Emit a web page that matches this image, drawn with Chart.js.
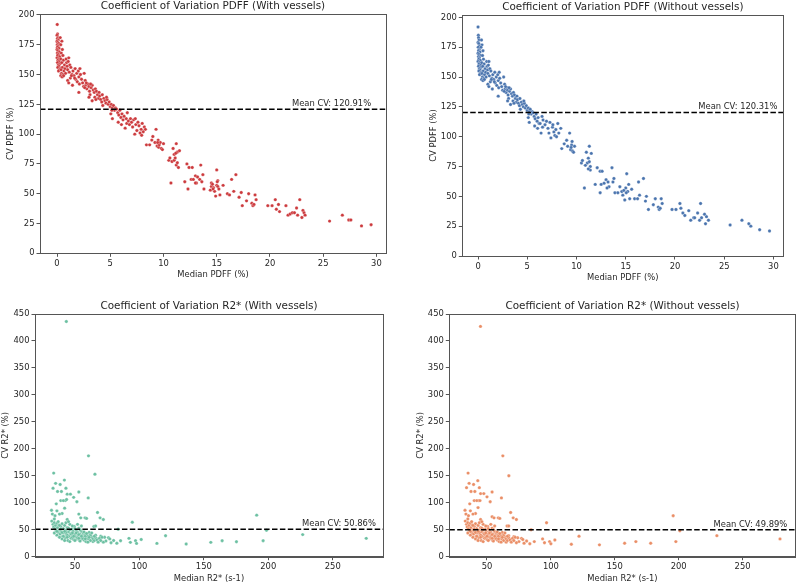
<!DOCTYPE html>
<html><head><meta charset="utf-8">
<script src="https://cdn.jsdelivr.net/npm/chart.js@4/dist/chart.umd.min.js"></script>
<style>
html,body{margin:0;padding:0;background:#fff;}
#wrap{position:relative;width:800px;height:585px;overflow:hidden;}
canvas{position:absolute;left:0;top:0;}
</style></head><body><div id="wrap">
<canvas id="c0" width="800" height="585"></canvas>
<canvas id="c1" width="800" height="585"></canvas>
<canvas id="c2" width="800" height="585"></canvas>
<canvas id="c3" width="800" height="585"></canvas>
</div>
<script>
// ---------------- data ----------------
const titles = [
  "Coefficient of Variation PDFF (With vessels)",
  "Coefficient of Variation PDFF (Without vessels)",
  "Coefficient of Variation R2* (With vessels)",
  "Coefficient of Variation R2* (Without vessels)"
];
const xTitles = ["Median PDFF (%)", "Median PDFF (%)", "Median R2* (s-1)", "Median R2* (s-1)"];
const yTitles = ["CV PDFF (%)", "CV PDFF (%)", "CV R2* (%)", "CV R2* (%)"];
const meanCV = [120.91, 120.31, 50.86, 49.89];
const pdffTicksX = [0, 5, 10, 15, 20, 25, 30];
const pdffTicksY = [0, 25, 50, 75, 100, 125, 150, 175, 200];
const r2TicksX = [50, 100, 150, 200, 250];
const r2TicksY = [0, 50, 100, 150, 200, 250, 300, 350, 400, 450];

const pdffWith = [
[0.02,192],[0.05,184],[0.0,183],[0.08,181],[0.03,180],[0.12,179],[0.0,178],[0.06,177],[0.15,176],[0.02,175],[0.1,174],[0.04,173],[0.18,172],[0.0,171],[0.08,170],[0.22,169],[0.03,168],[0.12,167],[0.06,166],[0.25,165],[0.0,164],[0.15,163],[0.09,162],[0.2,161],[0.04,160],[0.28,159],[0.12,158],[0.18,157],[0.07,156],[0.3,155],[0.22,154],[0.14,153],
[0.3,181],[0.45,178],[0.35,175],[0.5,171],[0.4,168],[0.55,166],[0.35,163],[0.6,162],[0.45,160],[0.7,158],[0.5,156],[0.38,154],[0.65,153],[0.42,151],[0.55,150],[0.35,149],[0.48,148],[0.75,155],[0.8,151],[0.62,149],[0.9,160],[0.85,163],[0.95,157],
[1.1,164],[1.05,161],[1.2,158],[1.0,154],[1.15,152],[1.3,156],[1.4,150],[1.0,145],[1.1,143],[1.25,147],[1.5,153],[1.6,149],[1.7,155],[1.75,146],[1.85,151],[1.9,144],[2.0,153],[2.05,148],[2.1,142],[2.2,150],[2.3,146],[2.05,135],[2.4,143],[2.5,140],[1.45,141],[1.65,147],[2.15,155],[1.35,149],[2.55,151],[2.65,145],
[2.7,141],[2.8,138],[2.9,142],[3.0,140],[3.05,136],[3.1,133],[3.2,139],[3.3,141],[3.4,137],[3.5,135],[3.55,131],[3.6,138],[3.7,136],[3.8,133],[3.9,130],[3.0,131],[3.3,128],[2.6,139],[2.75,143],[3.15,142],[3.65,129],[3.95,135],
[4.0,132],[4.1,129],[4.2,127],[4.3,124],[4.4,130],[4.5,128],[4.6,126],[4.7,129],[4.8,125],[4.9,127],[5.0,123],[5.1,125],[5.2,122],[5.3,124],[5.4,120],[5.5,122],[4.25,133],[4.65,131],[5.15,120],[5.05,117],
[5.6,121],[5.7,118],[5.8,116],[5.75,110],[5.9,120],[6.0,114],[6.1,117],[6.2,112],[6.3,115],[6.4,105],[6.5,113],[6.55,109],[6.6,118],[6.7,111],[6.8,108],[6.9,113],[7.0,110],[5.2,113],[6.05,108],
[7.1,106],[7.2,112],[7.3,100],[7.4,108],[7.5,103],[7.6,110],[7.7,107],[7.8,101],[7.9,104],[8.0,109],[8.1,102],[8.2,106],[8.3,104],[7.35,113],[7.95,99],
[8.4,91],[8.7,91],[8.9,95],[9.0,98],[9.2,93],[9.3,104],[9.4,90],[9.5,95],[9.55,89],[9.6,91],[9.7,93],[9.8,88],[9.9,87],[10.0,92],[9.45,93],
[10.5,78],[10.6,80],[10.7,59],[10.8,77],[10.9,88],[11.0,83],[11.0,78],[11.1,80],[11.2,92],[11.2,74],[11.3,76],[11.3,85],[11.4,72],[11.5,86],[11.15,84],
[12.0,60],[12.2,75],[12.3,54],[12.4,72],[12.6,62],[12.7,72],[12.8,62],[13.0,65],[13.1,59],[13.2,64],[13.4,62],[13.5,74],[13.6,60],[13.7,66],[13.8,54],[13.0,59],
[14.4,53],[14.5,56],[14.5,59],[14.6,58],[14.7,55],[14.8,52],[14.9,48],[15.0,57],[15.0,70],[15.1,56],[15.1,61],[15.2,54],[15.3,49],[15.6,57],[14.65,54],[15.05,60],
[16.0,50],[16.2,49],[16.4,62],[16.6,52],[16.8,66],[17.1,47],[17.3,51],[17.4,40],[17.8,44],[18.0,50],[18.3,42],[18.4,40],[18.5,41],[18.6,49],[18.7,45],
[19.8,40],[20.2,40],[20.5,45],[20.6,37],[20.8,41],[20.9,35],[21.5,40],[21.7,32],[21.9,33],[22.1,34],[22.3,34],[22.5,38],[22.6,32],[22.8,45],[23.0,30],[23.1,36],[23.2,34],[23.3,32],
[25.6,27],[26.8,32],[27.4,28],[27.6,28],[28.6,23],[29.5,24]
];

const pdffWithout = [
[0.0,192],[0.03,185],[0.05,183],[0.1,181],[0.0,179],[0.08,178],[0.15,176],[0.02,175],[0.12,173],[0.05,172],[0.2,171],[0.0,170],[0.1,169],[0.25,168],[0.04,167],[0.14,166],[0.08,165],[0.22,164],[0.0,163],[0.16,162],[0.1,161],[0.27,160],[0.05,159],[0.3,158],[0.13,157],[0.2,156],[0.08,155],[0.32,154],[0.24,153],[0.15,152],
[0.35,181],[0.4,177],[0.3,175],[0.5,172],[0.45,168],[0.55,165],[0.38,162],[0.62,161],[0.48,159],[0.72,157],[0.52,155],[0.4,153],[0.66,152],[0.44,150],[0.58,149],[0.36,148],[0.5,147],[0.78,154],[0.82,150],[0.64,148],[0.92,159],[0.88,163],[0.97,156],
[1.1,163],[1.05,160],[1.2,157],[1.0,153],[1.15,151],[1.3,155],[1.4,149],[1.0,144],[1.1,142],[1.25,146],[1.5,152],[1.6,148],[1.7,154],[1.75,145],[1.85,150],[1.9,143],[2.0,152],[2.05,147],[2.1,141],[2.2,149],[2.3,145],[2.05,134],[2.4,142],[2.5,139],[1.45,140],[1.65,146],[2.15,154],[1.35,148],[2.6,150],[2.7,144],
[2.75,140],[2.85,137],[2.95,141],[3.0,139],[3.05,135],[3.1,132],[3.2,138],[3.3,140],[3.4,136],[3.5,134],[3.55,130],[3.6,137],[3.7,135],[3.8,132],[3.9,129],[3.0,130],[3.3,127],[2.65,138],[2.8,142],[3.15,141],[3.65,128],[3.95,134],
[4.0,131],[4.1,128],[4.2,126],[4.3,123],[4.4,129],[4.5,127],[4.6,125],[4.7,128],[4.8,124],[4.9,126],[5.0,122],[5.1,124],[5.2,121],[5.3,123],[5.4,119],[5.5,121],[4.25,132],[4.65,130],[5.15,119],[5.1,116],
[5.6,120],[5.7,117],[5.8,115],[5.75,109],[5.9,119],[6.0,113],[6.1,116],[6.2,111],[6.3,111],[6.4,103],[6.6,114],[6.55,108],[6.5,117],[6.8,110],[6.95,113],[7.1,107],[5.2,112],[6.05,107],
[7.2,103],[7.4,99],[7.56,108],[7.7,104],[7.8,101],[7.97,100],[8.1,111],[8.4,107],[7.3,112],[7.6,110],[7.9,106],[8.2,103],
[8.5,90],[8.75,94],[9.0,97],[9.1,92],[9.3,103],[9.4,89],[9.5,93],[9.6,88],[9.7,87],[9.8,92],[9.45,91],[9.55,96],
[10.5,78],[10.6,80],[10.8,57],[11.0,87],[11.1,78],[11.2,82],[11.3,92],[11.4,75],[11.4,72],[11.5,86],[11.3,79],[10.9,76],[11.2,73],
[11.9,60],[12.1,74],[12.4,71],[12.4,53],[12.6,71],[12.5,60],[12.8,61],[13.0,64],[13.2,62],[13.3,58],[13.6,74],[13.7,62],[13.8,65],[13.9,53],[13.1,57],
[14.2,53],[14.4,58],[14.6,54],[14.7,51],[14.9,47],[15.0,57],[15.1,69],[15.2,54],[15.3,60],[15.4,48],[15.6,56],[15.9,48],[16.2,48],[16.3,62],[16.4,51],[16.8,65],[14.8,55],[15.05,53],
[17.0,46],[17.1,50],[17.3,39],[17.8,43],[18.0,48],[18.3,41],[18.4,39],[18.6,48],[18.7,44],[18.5,40],
[19.7,39],[20.1,39],[20.5,44],[20.6,40],[20.8,36],[21.0,34],[21.4,38],[21.6,30],[21.9,32],[22.0,32],[22.3,36],[22.5,30],[22.6,44],[22.7,32],[23.0,35],[23.1,27],[23.2,33],[23.4,30],
[25.6,26],[26.8,30],[27.5,27],[27.7,25],[28.6,22],[29.6,21]
];

const r2With = [
[43.3,436],[60.5,187],[65.5,153],[33.5,155],[33,127],[35,136],[36.5,121],[38.5,134],[39.5,121],[41.8,142],[43,127],[44,116],[42.5,104],[46.5,116],[49,110],[51.5,102],[53,120],[60.3,109],[35.5,98],[39,104],[41,104],[43.5,106],[40,80],[42,90],[31.8,86],[32.5,79],[34.5,76],[36,85],[38,79],[44,69],[53,79],[54.5,72],[57.8,72],[59,71],[67.5,82],[69.5,72],[72,69],[64.7,56],[66,57],[94.5,64],
[191,77],[198.6,49],[226.7,41],[276,34],[196,29.7],[175.3,27.8],[164.2,29.7],[155.4,26.6],[136.3,23.5],[113.6,24.7],[120.3,38.9],[101.4,32],[97,29.7],[93,26.6],[97.8,24.7],[91.9,34],[85.4,29.7],[83.5,51],[82.5,25],[80,30],[78,26],[76,35],[74,29],[77,33],[72,27],[70,38],[73,36],[68,33],[66,40],[64,28],
[32,66],[33,60],[33.5,55],[34,63],[34.5,52],[35,58],[35.5,48],[36,62],[36.5,54],[37,45],[37.5,59],[38,50],[38.5,42],[39,56],[39.5,47],[40,61],[40.5,38],[41,52],[41.5,44],[42,58],[42.5,35],[43,49],[43.5,41],[44,54],[44.5,30],[45,46],[45.5,38],[46,60],[46.5,43],[47,34],[47.5,51],[48,40],[48.5,47],[49,32],[49.5,56],[50,42],[50.5,37],[51,48],[51.5,33],[52,45],[52.5,39],[53,53],[53.5,30],[54,42],[54.5,36],[55,47],[55.5,33],[56,40],[56.5,44],[57,31],[57.5,37],[58,42],[58.5,28],[59,35],[60,39],[60.5,33],[61,45],[62,30],[63,36],[64,33],[65,30],[66,35],[67,31],[68,27],[69,34],[70,30],[71,36],
[36,40],[38,36],[40,33],[42,30],[44,40],[46,28],[48,36],[50,30],[52,35],[54,29],[56,34],[58,38],[60,27],[34,44],[36,47],[39,51],[41,38],[43,45],[45,53],[47,42],[49,38],[51,44],[53,41],[55,38],[57,46],[59,43],[62,40],[63,44],[65,38],[34,70],[37,65],[43,63],[48,57],[52,60],[55,57],[45,65],[50,52],[40,45],[38,58],[46,50],[44,36],[42,47],[48,44],[54,50],[58,33],[61,36],[53,34]
];

const r2Without = [
[44.9,427],[62.4,187],[67.1,150],[35.2,155],[34,128],[36,136],[37.5,121],[39.5,134],[40.5,121],[42.8,141],[44,128],[45,117],[43.5,104],[47.5,117],[50,111],[52.5,102],[54,120],[61.3,109],[36.5,98],[40,104],[42,104],[44.5,104],[41,80],[43,91],[32.8,86],[33.5,79],[35.5,76],[37,85],[39,79],[45,69],[54,74],[55.5,72],[58.8,72],[60,71],[68.5,82],[70.5,72],[73,69],[65.7,57],[67,57],[96.6,63],
[195.7,76],[200.9,48],[229.9,39],[279.3,33],[197.8,28],[178.1,25],[166.5,28],[157.7,25],[138,22],[116,23],[122,38],[103.1,31],[99,28],[95,26],[100,24],[93.5,33],[87,28],[84.5,50],[83.5,24],[81,29],[79,25],[77,34],[75,28],[78,32],[73,26],[71,37],[74,35],[69,32],[67,39],[65,27],
[33,66],[34,60],[34.5,55],[35,63],[35.5,52],[36,58],[36.5,48],[37,62],[37.5,54],[38,45],[38.5,59],[39,50],[39.5,42],[40,56],[40.5,47],[41,61],[41.5,38],[42,52],[42.5,44],[43,58],[43.5,35],[44,49],[44.5,41],[45,54],[45.5,30],[46,46],[46.5,38],[47,60],[47.5,43],[48,34],[48.5,51],[49,40],[49.5,47],[50,32],[50.5,56],[51,42],[51.5,37],[52,48],[52.5,33],[53,45],[53.5,39],[54,53],[54.5,30],[55,42],[55.5,36],[56,47],[56.5,33],[57,40],[57.5,44],[58,31],[58.5,37],[59,42],[59.5,28],[60,35],[61,39],[61.5,33],[62,45],[63,30],[64,36],[65,33],[66,30],[67,35],[68,31],[69,27],[70,34],[71,30],[72,36],
[37,40],[39,36],[41,33],[43,30],[45,40],[47,28],[49,36],[51,30],[53,35],[55,29],[57,34],[59,38],[61,27],[35,44],[37,47],[40,51],[42,38],[44,45],[46,53],[48,42],[50,38],[52,44],[54,41],[56,38],[58,46],[60,43],[63,40],[64,44],[66,38],[35,70],[38,65],[44,63],[49,57],[53,60],[56,57],[46,65],[51,52],[41,45],[39,58],[47,50],[45,36],[43,47],[49,44],[55,50],[59,33],[62,36],[54,34]
];

// ---------------- layout ----------------
const panels = [
  {id:'c0', data:pdffWith,    color:'#cc3a3d', L:40,    R:386,   T:14,  B:253.3, xmin:-1.6, xmax:30.9, ymax:200.8, tx:pdffTicksX, ty:pdffTicksY, labelX:29.5},
  {id:'c1', data:pdffWithout, color:'#4a74ae', L:462.3, R:783.3, T:15,  B:256,   xmin:-1.6, xmax:31.0, ymax:202,   tx:pdffTicksX, ty:pdffTicksY, labelX:30.4},
  {id:'c2', data:r2With,      color:'#6cc0a2', L:35,    R:383,   T:314, B:556.7, xmin:19,   xmax:289,  ymax:450,   tx:r2TicksX,   ty:r2TicksY,   labelX:283.5},
  {id:'c3', data:r2Without,   color:'#ea8e66', L:449.3, R:798.3, T:314, B:556.7, xmin:20.5, xmax:291.5, ymax:450,  tx:r2TicksX,   ty:r2TicksY,   labelX:285}
];

const FONT = 'DejaVu Sans';
const FS = 8.4, TFS = 10.4;
const TXT = '#262626';
const AX = '#555';
const YW = 34, XH = 28;

panels.forEach((p, i) => {
  const framePlugin = {
    id: 'frame' + i,
    afterDatasetsDraw(chart) {
      const {ctx, chartArea: a, scales} = chart;
      ctx.save();
      ctx.font = FS + 'px "' + FONT + '"';
      ctx.fillStyle = TXT;
      ctx.textAlign = 'right';
      ctx.textBaseline = 'bottom';
      ctx.fillText('Mean CV: ' + meanCV[i].toFixed(2) + '%', scales.x.getPixelForValue(p.labelX), scales.y.getPixelForValue(meanCV[i]) - 1);
      ctx.strokeStyle = AX;
      ctx.lineWidth = 1;
      ctx.strokeRect(Math.round(a.left) + 0.5, Math.round(a.top) + 0.5, Math.round(a.right - a.left), Math.round(a.bottom - a.top));
      ctx.font = TFS + 'px "' + FONT + '"';
      ctx.textAlign = 'center';
      ctx.textBaseline = 'middle';
      ctx.fillText(titles[i], (a.left + a.right) / 2, a.top - 8);
      ctx.restore();
    }
  };
  new Chart(document.getElementById(p.id), {
    type: 'scatter',
    data: {
      datasets: [
        {
          type: 'line',
          data: [{x: p.xmin, y: meanCV[i]}, {x: p.xmax, y: meanCV[i]}],
          borderColor: '#000', borderWidth: 1.5, borderDash: [5.5, 2.4],
          pointRadius: 0, fill: false
        },
        {
          data: p.data.map(d => ({x: d[0], y: d[1]})),
          backgroundColor: p.color,
          borderColor: 'rgba(255,255,255,0.7)',
          borderWidth: 0.4,
          pointRadius: 1.7
        }
      ]
    },
    options: {
      responsive: false,
      animation: false,
      devicePixelRatio: 1,
      layout: {padding: {left: p.L - YW, right: 800 - p.R, top: p.T, bottom: 585 - p.B - XH}},
      plugins: {legend: {display: false}, tooltip: {enabled: false}, title: {display: false}},
      scales: {
        x: {
          type: 'linear', min: p.xmin, max: p.xmax,
          afterBuildTicks: s => { s.ticks = p.tx.map(v => ({value: v})); },
          afterFit: s => { s.height = XH; },
          grid: {display: true, drawOnChartArea: false, drawTicks: true, tickLength: 3.5, color: AX, tickColor: AX},
          border: {display: true, color: AX, width: 1},
          ticks: {font: {family: FONT, size: FS}, color: TXT, padding: 2, maxRotation: 0},
          title: {display: true, text: xTitles[i], font: {family: FONT, size: FS}, color: TXT, padding: {top: 0, bottom: 1.2}}
        },
        y: {
          type: 'linear', min: 0, max: p.ymax,
          afterBuildTicks: s => { s.ticks = p.ty.map(v => ({value: v})); },
          afterFit: s => { s.width = YW; },
          grid: {display: true, drawOnChartArea: false, drawTicks: true, tickLength: 3.5, color: AX, tickColor: AX},
          border: {display: true, color: AX, width: 1},
          ticks: {font: {family: FONT, size: FS}, color: TXT, padding: 2},
          title: {display: true, text: yTitles[i], font: {family: FONT, size: FS}, color: TXT, padding: {top: 0, bottom: 0}}
        }
      }
    },
    plugins: [framePlugin]
  });
});
</script>
</body></html>
